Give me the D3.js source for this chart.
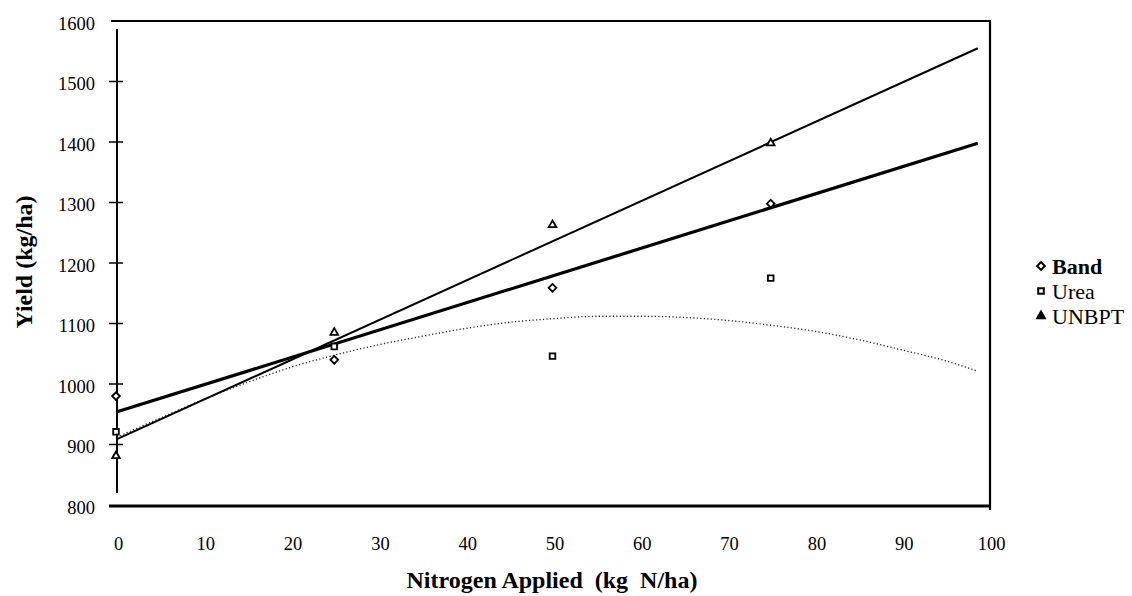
<!DOCTYPE html>
<html>
<head>
<meta charset="utf-8">
<script src="https://cdn.jsdelivr.net/npm/d3@7"></script>
<style>
  html, body { margin: 0; padding: 0; background: #fff; }
  svg { display: block; }
</style>
</head>
<body>
<svg id="chart" width="1132" height="596"></svg>
<script>
// ---- data ----
const doses = [0, 25, 50, 75];
const bandYield = [980, 1040, 1159, 1298];
const ureaYield = [921, 1062, 1046, 1175];
const unbptYield = [881, 1085, 1263, 1398];

// fitted trend lines (read endpoints)
const bandFitX = [0, 98.6];
const bandFitY = [954, 1398];
const unbptFitX = [0, 98.6];
const unbptFitY = [909, 1555];
// urea quadratic fit
const ureaFitX = [0, 5, 10, 15, 20, 25, 30, 35, 40, 45, 50, 55, 60, 65, 70, 75, 80, 85, 90, 95, 98.6];
const ureaFitY = [912, 944, 975, 1003, 1028, 1048, 1065, 1079, 1092, 1102, 1108, 1112, 1112, 1110, 1105, 1097, 1087, 1073, 1056, 1038, 1021];

const xTicks = [0, 10, 20, 30, 40, 50, 60, 70, 80, 90, 100];
const yTicks = [800, 900, 1000, 1100, 1200, 1300, 1400, 1500, 1600];
const yTickMarks = [900, 1000, 1100, 1200, 1300, 1400, 1500];
const seriesNames = ["Band", "Urea", "UNBPT"];
const xTitle = "Nitrogen Applied  (kg  N/ha)";
const yTitle = "Yield (kg/ha)";

// ---- pick an installed serif face ----
function pickSerif() {
  const cands = ["Liberation Serif", "Times New Roman", "Tinos", "Times", "Nimbus Roman", "Nimbus Roman No9 L",
    "FreeSerif", "DejaVu Serif", "Noto Serif", "Georgia"];
  const ctx = document.createElement("canvas").getContext("2d");
  const s = "Nitrogen Applied 1234567890 UNBPT Yield";
  const base = {};
  ["monospace", "sans-serif"].forEach(b => { ctx.font = "40px " + b; base[b] = ctx.measureText(s).width; });
  for (const c of cands) {
    let found = false;
    for (const b of ["monospace", "sans-serif"]) {
      ctx.font = `40px "${c}", ${b}`;
      if (Math.abs(ctx.measureText(s).width - base[b]) > 0.5) found = true;
    }
    if (found) return `"${c}", serif`;
  }
  return "serif";
}
const FONT = pickSerif();

// ---- drawing ----
const svg = d3.select("#chart");
const x = d3.scaleLinear().domain([0, 100]).range([117, 990]);
const y = d3.scaleLinear().domain([800, 1600]).range([505, 21]);

// frame lines
svg.append("line").attr("x1", 111).attr("x2", 991).attr("y1", y(1600)).attr("y2", y(1600))
  .attr("stroke", "#000").attr("stroke-width", 2);
svg.append("line").attr("x1", x(100)).attr("x2", x(100)).attr("y1", y(1600) - 1).attr("y2", 510)
  .attr("stroke", "#000").attr("stroke-width", 2.2);
svg.append("line").attr("x1", 109).attr("x2", x(100)).attr("y1", 506).attr("y2", 506)
  .attr("stroke", "#000").attr("stroke-width", 3);
// y axis line
svg.append("line").attr("x1", x(0)).attr("x2", x(0)).attr("y1", 29).attr("y2", 493)
  .attr("stroke", "#000").attr("stroke-width", 2);
// crossing ticks
svg.append("g").selectAll("line").data(yTickMarks).join("line")
  .attr("x1", x(0) - 8).attr("x2", x(0) + 6)
  .attr("y1", d => y(d)).attr("y2", d => y(d))
  .attr("stroke", "#000").attr("stroke-width", 1.5);

// y labels
const yAxis = svg.append("g").attr("transform", `translate(${x(0)},0)`)
  .call(d3.axisLeft(y).tickValues(yTicks).tickSize(0).tickPadding(22).tickFormat(d3.format("d")));
yAxis.attr("font-family", FONT).attr("font-size", 18.5);
yAxis.select(".domain").remove();
yAxis.selectAll("text").attr("dy", "0.45em");

// x labels
const xAxis = svg.append("g").attr("transform", `translate(1,506)`)
  .call(d3.axisBottom(x).tickValues(xTicks).tickSize(0).tickPadding(31).tickFormat(d3.format("d")));
xAxis.attr("font-family", FONT).attr("font-size", 18.5);
xAxis.select(".domain").remove();

// titles
svg.append("text").attr("x", 552).attr("y", 588).attr("text-anchor", "middle")
  .attr("font-family", FONT).attr("font-size", 24).attr("font-weight", "bold")
  .attr("xml:space", "preserve").style("white-space", "pre").text(xTitle);
svg.append("text").attr("transform", "translate(32,262) rotate(-90)").attr("text-anchor", "middle")
  .attr("font-family", FONT).attr("font-size", 24).attr("font-weight", "bold").text(yTitle);

// fit lines
svg.append("path").datum(d3.zip(ureaFitX, ureaFitY))
  .attr("d", d3.line().x(d => x(d[0])).y(d => y(d[1])).curve(d3.curveMonotoneX)).attr("fill", "none")
  .attr("stroke", "#222").attr("stroke-width", 1.3).attr("stroke-dasharray", "1.2,2.3");
svg.append("path").datum(d3.zip(unbptFitX, unbptFitY))
  .attr("d", d3.line().x(d => x(d[0])).y(d => y(d[1]))).attr("fill", "none")
  .attr("stroke", "#000").attr("stroke-width", 2);
svg.append("path").datum(d3.zip(bandFitX, bandFitY))
  .attr("d", d3.line().x(d => x(d[0])).y(d => y(d[1]))).attr("fill", "none")
  .attr("stroke", "#000").attr("stroke-width", 3.2);

// markers
const symDiamond = d3.symbol().type(d3.symbolDiamond2).size(38);
const symSquare = d3.symbol().type(d3.symbolSquare2).size(40);
const symTriangle = d3.symbol().type(d3.symbolTriangle2).size(42);
const series = [
  { name: seriesNames[0], vals: bandYield, sym: symDiamond },
  { name: seriesNames[1], vals: ureaYield, sym: symSquare },
  { name: seriesNames[2], vals: unbptYield, sym: symTriangle }
];
series.forEach(s => {
  svg.append("g").selectAll("path").data(d3.zip(doses, s.vals)).join("path")
    .attr("transform", d => `translate(${x(d[0]) - 1},${y(d[1])})`)
    .attr("d", s.sym()).attr("fill", "#fff").attr("stroke", "#000").attr("stroke-width", 1.8);
});

// legend
const legY = [266, 291, 316];
series.forEach((s, i) => {
  svg.append("path").attr("transform", `translate(1041,${legY[i]})`)
    .attr("d", s.sym()).attr("fill", i === 2 ? "#000" : "#fff").attr("stroke", "#000").attr("stroke-width", 2);
  svg.append("text").attr("x", 1052).attr("y", legY[i]).attr("dy", "0.35em")
    .attr("font-family", FONT).attr("font-size", 22).attr("font-weight", i === 0 ? "bold" : "normal").text(s.name);
});
</script>
</body>
</html>
